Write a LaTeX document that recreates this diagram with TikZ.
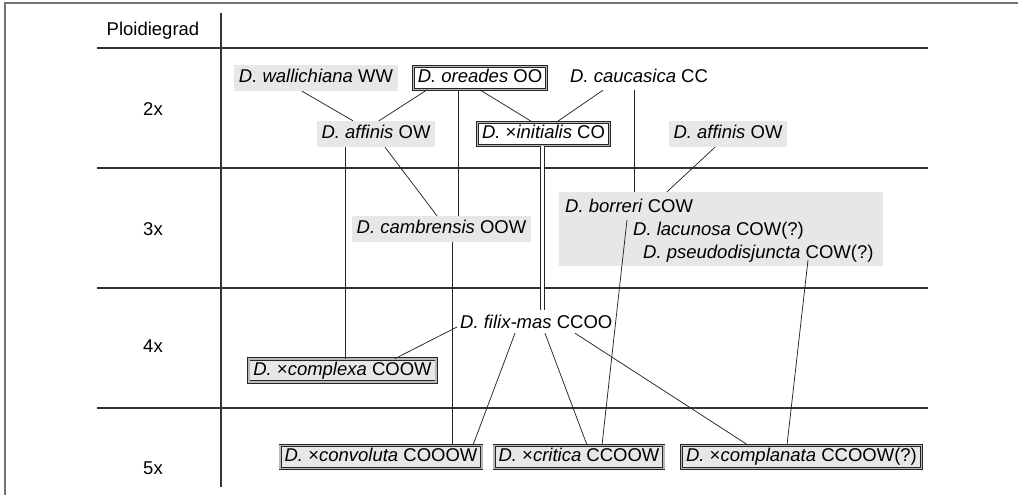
\documentclass[tikz,border=0pt]{standalone}
\usepackage{fontspec}
\setmainfont{Liberation Sans}
\usetikzlibrary{calc}
\definecolor{boxgray}{RGB}{230,231,233}
\begin{document}
\begin{tikzpicture}[x=1pt,y=-1pt,
  every node/.style={font=\fontsize{18.5pt}{22pt}\selectfont, text=black},
  txt/.style={inner sep=0pt, text height=13pt, text depth=4pt},
  sp/.style={fill=boxgray, inner xsep=5pt, inner ysep=4.5pt, text height=13pt, text depth=4pt},
  hyb/.style={draw=black!85, double=gray!55, double distance=1.5pt, line width=0.8pt,
              inner xsep=4.5pt, inner ysep=3pt, text height=13pt, text depth=4pt},
  conn/.style={draw=black!85, line width=0.75pt},
  dconn/.style={draw=black!85, line width=0.7pt, double=white, double distance=3.2pt},
  gridline/.style={draw=black!80, line width=1.1pt},
  frameline/.style={draw=black!55, line width=1.4pt}]
\useasboundingbox (0,0) rectangle (1018,495);

% frame and table
\draw[frameline] (5,495) -- (5,3) -- (1018,3);
\foreach \yy in {48,168,288,408} \draw[gridline] (97,\yy) -- (928,\yy);
\draw[gridline] (221,13) -- (221,487);

% row labels
\node[txt, anchor=base] (r0) at (153,36) {Ploidiegrad};
\node[txt, anchor=base] (r2) at (153,115) {2x};
\node[txt, anchor=base] (r3) at (153,235) {3x};
\node[txt, anchor=base] (r4) at (153,352) {4x};
\node[txt, anchor=base] (r5) at (153,474) {5x};

% 2x
\node[sp] (wal) at (316,78) {\textit{D. wallichiana} WW};
\node[hyb, fill=white] (ore) at (480,78) {\textit{D. oreades} OO};
\node[txt, anchor=base west] (cau) at (570,83) {\textit{D. caucasica} CC};
\node[sp] (affL) at (376,134) {\textit{D. affinis} OW};
\node[hyb, fill=white] (init) at (543.5,134) {\textit{D.} ×\textit{initialis} CO};
\node[sp] (affR) at (728,134) {\textit{D. affinis} OW};

% 3x
\node[sp] (camb) at (441.5,229) {\textit{D. cambrensis} OOW};
\node[fill=boxgray, inner sep=0pt, minimum width=324pt, minimum height=74pt] (grp) at (721,229) {};
\node[txt, anchor=base west] (bor) at (565,212) {\textit{D. borreri} COW};
\node[txt, anchor=base west] (lac) at (633,235) {\textit{D. lacunosa} COW(?)};
\node[txt, anchor=base west] (pse) at (643,258) {\textit{D. pseudodisjuncta} COW(?)};

% 4x
\node[txt, anchor=base west] (filix) at (460,328) {\textit{D. filix-mas} CCOO};
\node[hyb, fill=boxgray] (cx) at (342.5,370.5) {\textit{D.} ×\textit{complexa} COOW};

% 5x
\node[hyb, fill=boxgray] (conv) at (381,457) {\textit{D.} ×\textit{convoluta} COOOW};
\node[hyb, fill=boxgray] (crit) at (579,457) {\textit{D.} ×\textit{critica} CCOOW};
\node[hyb, fill=boxgray] (compl) at (801.5,457) {\textit{D.} ×\textit{complanata} CCOOW(?)};

% helper coordinates
\coordinate (oreV) at ([xshift=-22pt]ore.south);
\coordinate (affLV) at ([xshift=-31pt]affL.south);
\coordinate (initV) at ([xshift=-1pt]init.south);
\coordinate (cauV) at ([shift={(64pt,-3pt)}]cau.south west);
\coordinate (cambV) at ([xshift=10.5pt]camb.south);

% connectors
\draw[conn] ([xshift=-14pt]wal.south) -- ([xshift=-23pt]affL.north);
\draw[conn] ([xshift=-53pt]ore.south) -- ([xshift=3pt]affL.north);
\draw[conn] (ore.south) -- ([xshift=-11pt]init.north);
\draw[conn] ([shift={(33pt,-3pt)}]cau.south west) -- ([xshift=13pt]init.north);
\draw[conn] (oreV) -- (oreV |- camb.north);
\draw[conn] ([xshift=9pt]affL.south) -- ([xshift=-4.5pt]camb.north);
\draw[conn] (affLV) -- (affLV |- cx.north);
\draw[dconn] (initV) -- ([yshift=5pt]initV |- filix.north);
\draw[conn] (cauV) -- (cauV |- grp.north);
\draw[conn] ([xshift=-13pt]affR.south) -- ([xshift=-54pt]grp.north);
\draw[conn] (cambV) -- (cambV |- conv.north);
\draw[conn] ([shift={(-3pt,1pt)}]filix.base west) -- ([xshift=52.5pt]cx.north);
\draw[conn] ([shift={(55pt,-1pt)}]filix.south west) -- ([xshift=92pt]conv.north);
\draw[conn] ([shift={(85pt,-1pt)}]filix.south west) -- ([xshift=8pt]crit.north);
\draw[conn] ([shift={(115pt,-1pt)}]filix.south west) -- ([xshift=-53.5pt]compl.north);
\draw[conn] ([shift={(-6pt,15pt)}]lac.base west) -- ([xshift=23pt]crit.north);
\draw[conn] ([shift={(165pt,-2pt)}]pse.base west) -- ([xshift=-14.5pt]compl.north);
\end{tikzpicture}
\end{document}
